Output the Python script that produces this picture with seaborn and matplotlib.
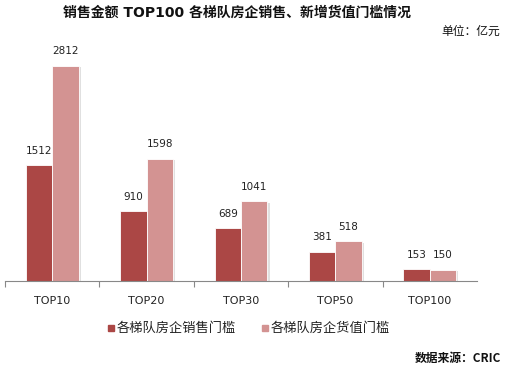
import numpy as np
import pandas as pd
import matplotlib
matplotlib.use("Agg")
import matplotlib.pyplot as plt
import matplotlib.patheffects as pe
from matplotlib.patches import Rectangle
import seaborn as sns

categories = ["TOP10", "TOP20", "TOP30", "TOP50", "TOP100"]
sales_threshold = [1512, 910, 689, 381, 153]
supply_threshold = [2812, 1598, 1041, 518, 150]
series_names = ["各梯队房企销售门槛", "各梯队房企货值门槛"]
colors = ["#AB4745", "#D39392"]

sns.set_theme(style="white")
plt.rcParams["font.family"] = ["DejaVu Sans", "Noto Sans CJK SC"]

df = pd.DataFrame({
    "cat": categories * 2,
    "series": [series_names[0]] * 5 + [series_names[1]] * 5,
    "value": sales_threshold + supply_threshold,
})

fig = plt.figure(figsize=(5.09, 3.67), dpi=100)
ax = fig.add_axes([5 / 509, 1 - 281 / 367, 472 / 509, 231 / 367])

sns.barplot(data=df, x="cat", y="value", hue="series", palette=colors,
            saturation=1, width=0.56, gap=0, edgecolor="white", linewidth=0.6,
            legend=False, ax=ax)

# soft drop shadow like the original office chart
for p in ax.patches:
    p.set_path_effects([pe.SimplePatchShadow(offset=(1.5, -1), shadow_rgbFace="#999999", alpha=0.3),
                        pe.Normal()])

for cont in ax.containers:
    ax.bar_label(cont, fmt="%d", padding=7, fontsize=7.5, color="#222222")

ax.set_xlim(-0.5, 4.5)
ax.set_ylim(0, 3021)
ax.set_xlabel("")
ax.set_ylabel("")
ax.set_yticks([])
for s in ["top", "right", "left"]:
    ax.spines[s].set_visible(False)
ax.spines["bottom"].set_color("#888888")
ax.spines["bottom"].set_linewidth(0.8)

ax.set_xticks(range(len(categories)))
ax.set_xticklabels(categories, fontsize=8, color="#222222")
ax.tick_params(axis="x", which="major", length=0, pad=11)
ax.set_xticks(np.arange(-0.5, 4.0, 1.0), minor=True)
ax.tick_params(axis="x", which="minor", length=4, color="#888888", width=0.8, direction="out")
ax.tick_params(axis="x", which="minor", bottom=True)

fig.text(237 / 509, 1 - 13 / 367, "销售金额 TOP100 各梯队房企销售、新增货值门槛情况",
         ha="center", va="center", fontsize=10, fontweight="bold", color="#111111")
fig.text(500 / 509, 1 - 31 / 367, "单位：亿元", ha="right", va="center",
         fontsize=8.5, color="#111111", family=["Noto Sans CJK SC"])

# legend
for i, (name, c) in enumerate(zip(series_names, colors)):
    x0 = [108, 262][i]
    fig.patches.append(Rectangle((x0 / 509, 1 - 331 / 367), 6 / 509, 6 / 367,
                                 transform=fig.transFigure, color=c))
    fig.text((x0 + 9) / 509, 1 - 328 / 367, name, ha="left", va="center",
             fontsize=9.5, color="#222222", family=["Noto Sans CJK SC"])

fig.text(501 / 509, 1 - 358 / 367, "数据来源：CRIC", ha="right", va="center",
         fontsize=8.5, fontweight="bold", color="#111111", family=["Noto Sans CJK SC"])

fig.savefig("out.png", dpi=100)
